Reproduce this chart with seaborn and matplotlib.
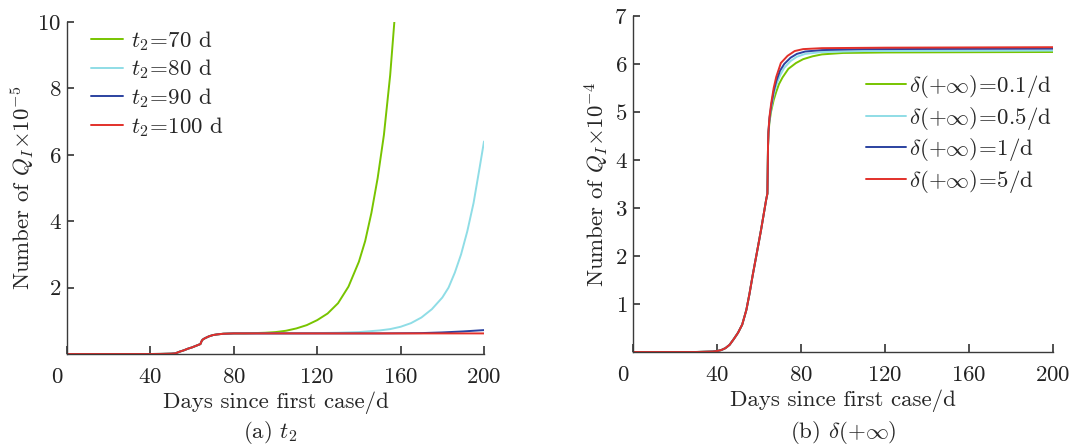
import numpy as np
import pandas as pd
import matplotlib
matplotlib.use("Agg")
import matplotlib.pyplot as plt
import matplotlib.transforms as mtransforms
import seaborn as sns

# ---------------- data ----------------
# panel (a): Q_I x 1e-5 for different t2
a_labels = [r"$t_2\!=\!70$ d", r"$t_2\!=\!80$ d", r"$t_2\!=\!90$ d", r"$t_2\!=\!100$ d"]
a_base_days = [0, 40, 45, 50, 52, 54, 56, 58, 60, 62, 64, 64.5, 65, 66, 68, 70, 72, 75, 80]
a_base_vals = [0, 0, 0.003, 0.01, 0.02, 0.07, 0.11, 0.16, 0.2, 0.25, 0.30, 0.38, 0.43, 0.47, 0.53, 0.57, 0.59, 0.61, 0.62]
a70_days = [85, 90, 95, 100, 105, 110, 115, 120, 125, 130, 135, 140, 143, 146, 149, 152, 155, 157]
a70_vals = [0.62, 0.63, 0.64, 0.66, 0.70, 0.77, 0.87, 1.02, 1.22, 1.53, 2.03, 2.78, 3.4, 4.25, 5.3, 6.6, 8.4, 10.0]
a80_days = [100, 120, 130, 140, 150, 155, 160, 165, 170, 175, 180, 183, 186, 189, 192, 195, 198, 200]
a80_vals = [0.62, 0.63, 0.64, 0.66, 0.71, 0.75, 0.82, 0.93, 1.1, 1.35, 1.7, 2.0, 2.45, 3.0, 3.7, 4.55, 5.65, 6.4]
a90_days = [100, 150, 170, 180, 190, 200]
a90_vals = [0.62, 0.62, 0.63, 0.65, 0.68, 0.72]
a100_days = [100, 200]
a100_vals = [0.62, 0.62]

# panel (b): Q_I x 1e-4 for different delta(+inf)
b_labels = [r"$\delta(+\infty)\!=\!0.1/\mathrm{d}$", r"$\delta(+\infty)\!=\!0.5/\mathrm{d}$",
            r"$\delta(+\infty)\!=\!1/\mathrm{d}$", r"$\delta(+\infty)\!=\!5/\mathrm{d}$"]
b_base_days = [0, 30, 38, 40, 42, 44, 46, 48, 50, 52, 54, 55.5, 57, 59.5, 61, 63.4, 64, 64.3]
b_base_vals = [0, 0, 0.01, 0.02, 0.04, 0.08, 0.15, 0.27, 0.4, 0.57, 0.88, 1.22, 1.6, 2.19, 2.55, 3.17, 3.3, 4.3]
b01_days = [64.5, 65, 65.8, 67, 68.2, 69.5, 71.2, 74, 77.6, 81, 85.5, 90, 100, 120, 200]
b01_vals = [4.55, 4.8, 5.02, 5.25, 5.42, 5.58, 5.72, 5.9, 6.02, 6.1, 6.16, 6.2, 6.23, 6.24, 6.25]
b05_days = [64.5, 65, 65.8, 67, 68.2, 70, 72, 75, 78, 82, 90, 110, 200]
b05_vals = [4.57, 4.85, 5.08, 5.36, 5.56, 5.76, 5.92, 6.06, 6.15, 6.21, 6.25, 6.27, 6.28]
b1_days = [64.5, 65, 65.8, 67, 68.2, 70, 72, 75, 78, 82, 90, 110, 200]
b1_vals = [4.58, 4.87, 5.12, 5.43, 5.64, 5.86, 6.0, 6.13, 6.21, 6.26, 6.29, 6.31, 6.32]
b5_days = [64.5, 65, 65.8, 67, 68.2, 70.4, 73.6, 77, 81, 90, 120, 200]
b5_vals = [4.6, 4.9, 5.18, 5.5, 5.73, 6.02, 6.17, 6.27, 6.31, 6.33, 6.34, 6.35]

colors = ["#78c400", "#8fdde6", "#2b42a0", "#e2302a"]

# ---------------- build long tables ----------------
def build(labels, base_d, base_v, tails):
    rows = []
    for lab, (td, tv) in zip(labels, tails):
        for d, v in zip(base_d + td, base_v + tv):
            rows.append((lab, d, v))
    return pd.DataFrame(rows, columns=["series", "day", "value"])

df_a = build(a_labels, a_base_days, a_base_vals,
             [(a70_days, a70_vals), (a80_days, a80_vals), (a90_days, a90_vals), (a100_days, a100_vals)])
df_b = build(b_labels, b_base_days, b_base_vals,
             [(b01_days, b01_vals), (b05_days, b05_vals), (b1_days, b1_vals), (b5_days, b5_vals)])

FS = 16.5

# ---------------- style ----------------
sns.set_theme(style="ticks")
plt.rcParams.update({
    "font.family": ["cmr10", "DejaVu Serif"],
    "mathtext.fontset": "cm",
    "axes.formatter.use_mathtext": True,
    "font.size": FS,
    "axes.edgecolor": "#3a3a3a",
    "axes.linewidth": 1.0,
    "xtick.direction": "in",
    "ytick.direction": "in",
    "xtick.major.size": 6,
    "ytick.major.size": 5,
    "xtick.color": "#3a3a3a",
    "ytick.color": "#3a3a3a",
    "xtick.labelcolor": "#222222",
    "ytick.labelcolor": "#222222",
    "xtick.labelsize": FS,
    "ytick.labelsize": FS,
    "axes.unicode_minus": False,
})

fig = plt.figure(figsize=(10.72, 4.46), dpi=100)
ax1 = fig.add_axes([67 / 1072, 92 / 446, 417 / 1072, 332 / 446])
ax2 = fig.add_axes([633 / 1072, 94 / 446, 420 / 1072, 336 / 446])

for ax, df, labels in [(ax1, df_a, a_labels), (ax2, df_b, b_labels)]:
    sns.lineplot(data=df, x="day", y="value", hue="series", hue_order=labels,
                 palette=colors, estimator=None, sort=False, linewidth=1.4,
                 ax=ax, legend=True)
    ax.set_xlim(0, 200)
    ax.set_xticks([0, 40, 80, 120, 160, 200])
    ax.set_xlabel("Days since first case/d", fontsize=FS, labelpad=3)
    for s in ["top", "right"]:
        ax.spines[s].set_visible(False)
    ax.tick_params(axis="x", pad=10)
    ax.tick_params(axis="y", pad=4)

ax1.set_ylim(0, 10)
ax1.set_yticks([2, 4, 6, 8, 10])
ax1.set_ylabel(r"Number of $Q_I{\times}10^{-5}$", fontsize=FS, labelpad=1)
ax2.set_ylim(0, 7)
ax2.set_yticks([1, 2, 3, 4, 5, 6, 7])
ax2.set_ylabel(r"Number of $Q_I{\times}10^{-4}$", fontsize=FS, labelpad=2)

# shift the "0" x tick labels slightly left as in the reference
fig.canvas.draw()
for ax in (ax1, ax2):
    lab0 = ax.get_xticklabels()[0]
    lab0.set_transform(lab0.get_transform() + mtransforms.ScaledTranslation(-10 / 100, 0, fig.dpi_scale_trans))

ax1.legend(loc="upper left", bbox_to_anchor=(0.058, 0.98), frameon=False, fontsize=FS,
           handlelength=1.4, handletextpad=0.35, labelspacing=0.22, borderaxespad=0, borderpad=0)
ax2.legend(loc="upper left", bbox_to_anchor=(0.555, 0.83), frameon=False, fontsize=FS,
           handlelength=1.75, handletextpad=0.12, labelspacing=0.2, borderaxespad=0, borderpad=0)

fig.text(270 / 1072, 1 - 432 / 446, r"(a) $t_2$", ha="center", va="center", fontsize=FS)
fig.text(843 / 1072, 1 - 432 / 446, r"(b) $\delta(+\infty)$", ha="center", va="center", fontsize=FS)

fig.savefig("out.png", dpi=100)
